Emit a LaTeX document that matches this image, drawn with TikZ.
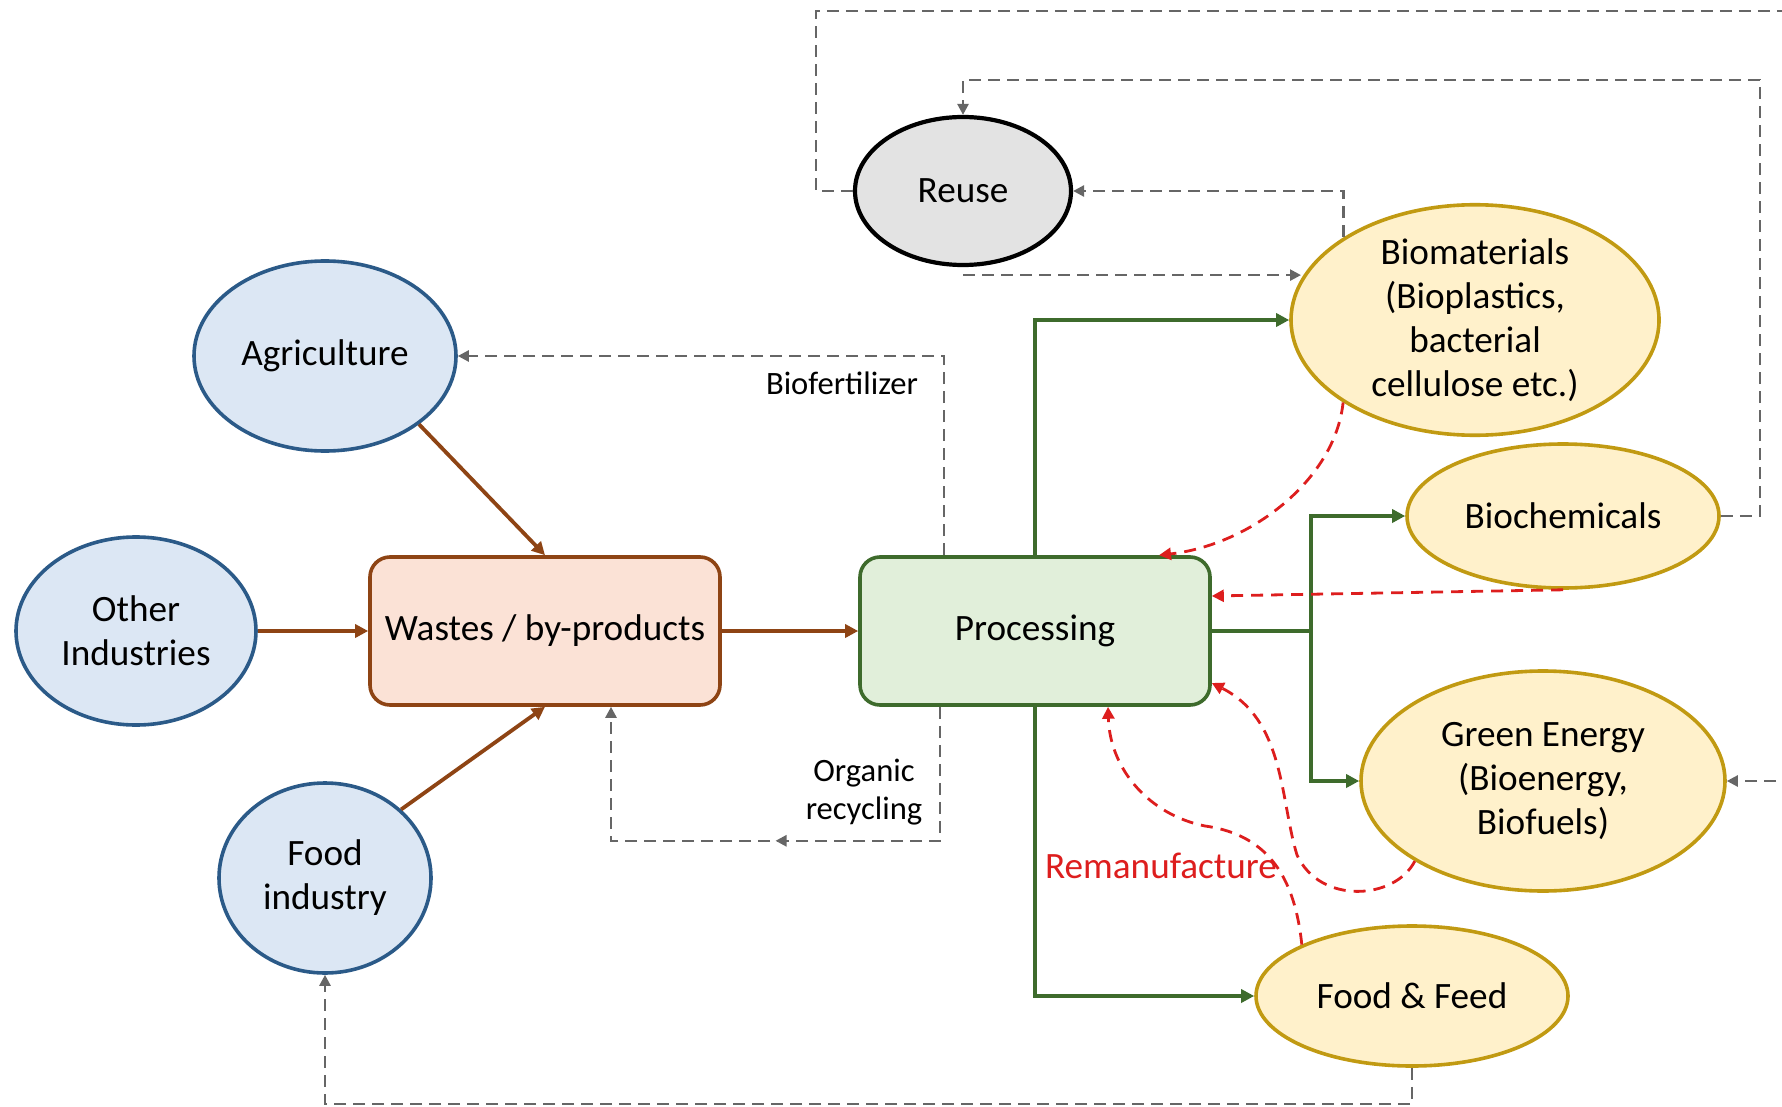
\documentclass[tikz,border=0pt]{standalone}
\usepackage{fontspec}
\setmainfont{Carlito}
\usetikzlibrary{shapes.geometric,arrows.meta,decorations.markings}
\definecolor{srcfill}{HTML}{DCE7F4}
\definecolor{srcline}{HTML}{2B5A88}
\definecolor{wastefill}{HTML}{FBE2D6}
\definecolor{wasteline}{HTML}{8E4414}
\definecolor{procfill}{HTML}{E1EFDA}
\definecolor{procline}{HTML}{3E6B2C}
\definecolor{prodfill}{HTML}{FFF1CB}
\definecolor{prodline}{HTML}{C19A12}
\definecolor{loopgray}{HTML}{666666}
\definecolor{remred}{HTML}{DD1E1E}
\begin{document}
\begin{tikzpicture}[x=0.5pt,y=-0.5pt,
   every node/.style={font=\fontsize{18.6}{22}\selectfont,align=center,inner sep=0pt},
   source/.style={ellipse,draw=srcline,fill=srcfill,line width=1.8pt},
   product/.style={ellipse,draw=prodline,fill=prodfill,line width=1.8pt},
   box/.style={rectangle,rounded corners=10pt,line width=1.8pt,
               minimum width=175pt,minimum height=74pt},
   wasteflow/.style={draw=wasteline,line width=1.9pt,-{Triangle[length=6.5pt,width=6.5pt]}},
   procflow/.style={draw=procline,line width=2pt,-{Triangle[length=6.5pt,width=6.5pt]}},
   loopflow/.style={draw=loopgray,line width=1.25pt,dash pattern=on 6pt off 3.5pt,
                    -{Triangle[length=5.5pt,width=5.5pt]}},
   remflow/.style={draw=remred,line width=1.4pt,dash pattern=on 6pt off 4pt,
                   -{Triangle[length=6pt,width=6pt]}},
   small/.style={font=\fontsize{16.3}{19.3}\selectfont}]
\useasboundingbox (0,0) rectangle (1782,1107);

\node[source,minimum width=131pt,minimum height=95pt] (agri) at (325,356) {Agriculture};
\node[source,minimum width=120pt,minimum height=94pt] (other) at (136,631) {Other\\Industries};
\node[source,minimum width=106pt,minimum height=95pt] (food) at (325,878) {Food\\industry};
\node[box,draw=wasteline,fill=wastefill] (waste) at (545,631) {Wastes / by-products};
\node[box,draw=procline,fill=procfill] (proc) at (1035,631) {Processing};
\node[ellipse,draw=black,fill=black!11,line width=2.1pt,minimum width=108pt,minimum height=74pt] (reuse) at (963,191) {Reuse};
\node[product,minimum width=184pt,minimum height=111pt] (biomat) at (1475,320) {Biomaterials\\(Bioplastics,\\bacterial\\cellulose etc.)};
\node[product,minimum width=156pt,minimum height=72pt] (biochem) at (1563,516) {Biochemicals};
\node[product,minimum width=182pt,minimum height=110pt] (energy) at (1543,781) {Green Energy\\(Bioenergy,\\Biofuels)};
\node[product,minimum width=156pt,minimum height=70pt] (feed) at (1412,996) {Food \& Feed};

\draw[wasteflow] (agri.-36) -- (waste.north);
\draw[wasteflow] (other) -- (waste.west);
\draw[wasteflow] (food.42) -- (waste.south);
\draw[wasteflow] (waste) -- (proc);

\draw[procflow] (proc.north) |- (biomat.west);
\draw[procflow] (proc.east) -- ++(99,0) coordinate (split) |- (biochem.west);
\draw[procflow] (split) |- (energy.west);
\draw[procflow] (proc.south) |- (feed.west);

\draw[loopflow] ([xshift=-45.5pt]proc.north) |- (agri.east);
\node[small] (biofert) at (842,383) {Biofertilizer};
\draw[loopflow,postaction={decorate},
   decoration={markings,mark=at position 0.5 with {\arrow{Triangle[length=5.5pt,width=5.5pt]}}}]
   ([xshift=-47.5pt]proc.south) -- ++(0,134) -| ([xshift=33pt]waste.south);
\node[small] (organic) at (864,792) {Organic\\recycling};
\draw[loopflow] (feed.south) -- ++(0,36) -| (food.south);
\draw[loopflow] (reuse.west) -- ++(-37,0) |- (1800,11) |- (energy.east);
\draw[loopflow] (biochem.east) -- ++(39,0) |- (963,80) -- (reuse.north);
\draw[loopflow] (biomat.north west) |- (reuse.east);
\draw[loopflow] ([yshift=-4pt]reuse.south) -- ++(338,0);

\draw[remflow] (biomat.212) .. controls (1335,480) and (1250,545) .. ([xshift=62pt]proc.north);
\draw[remflow] (biochem.south) -- ([yshift=17.5pt]proc.east);
\draw[remflow] (energy.212) .. controls (1395,900) and (1320,905) .. (1297,855)
   .. controls (1280,800) and (1285,720) .. ([yshift=-26pt]proc.east);
\draw[remflow] (feed.155) .. controls (1295,880) and (1270,835) .. (1205,826)
   .. controls (1150,815) and (1110,770) .. ([xshift=36.5pt]proc.south);
\node[text=remred] (reman) at (1161,866) {Remanufacture};

\end{tikzpicture}
\end{document}
